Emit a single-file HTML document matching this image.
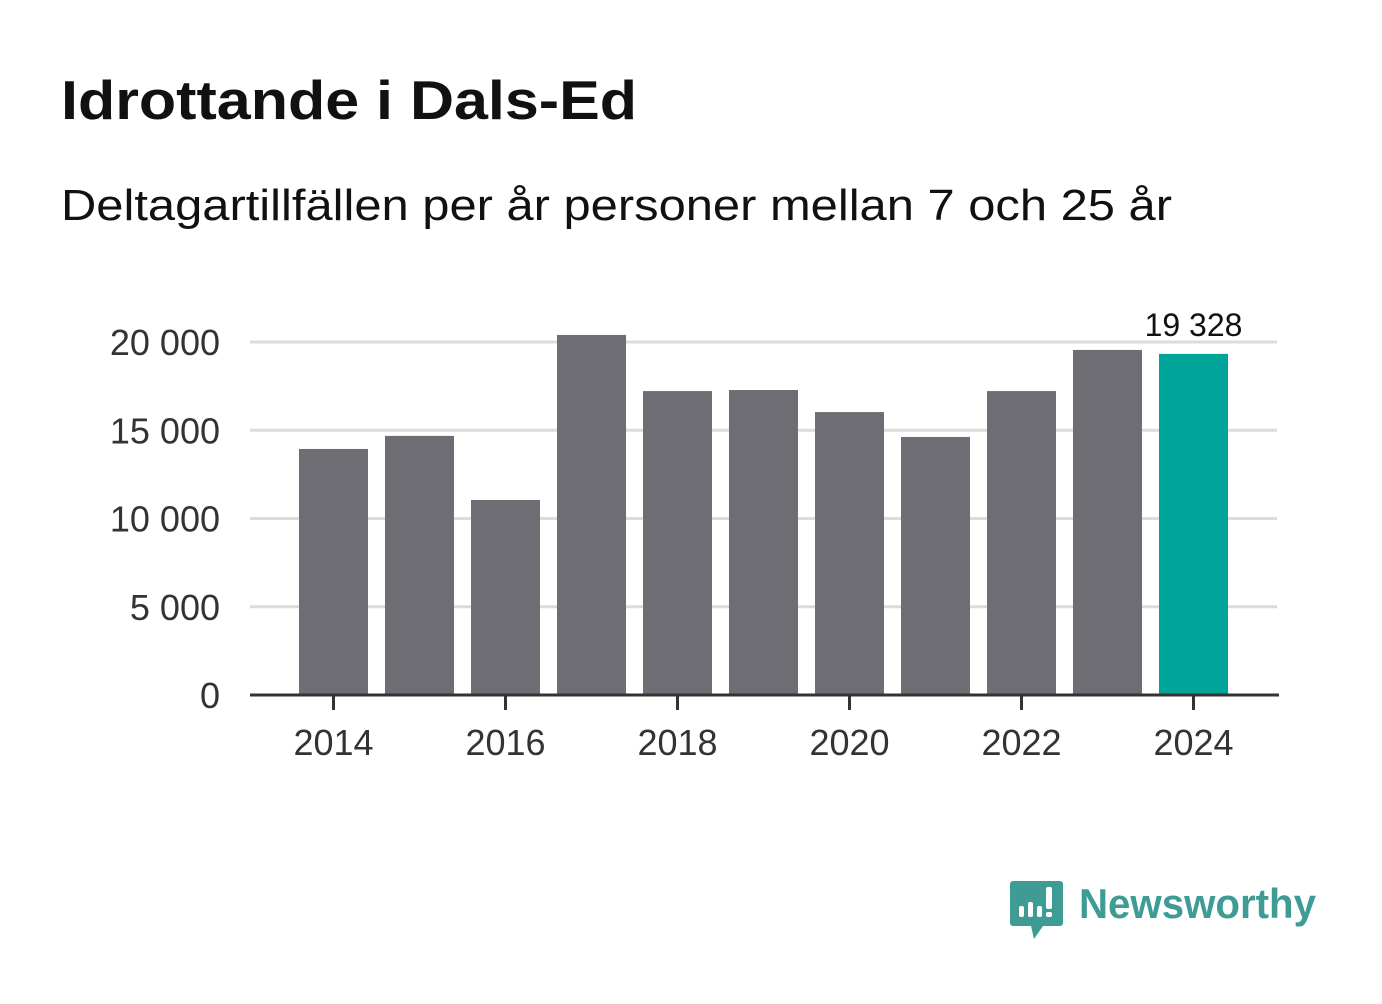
<!DOCTYPE html>
<html><head><meta charset="utf-8"><style>
body{margin:0;background:#fff;width:1382px;height:999px;overflow:hidden;font-family:"Liberation Sans","DejaVu Sans",sans-serif}
</style></head><body>
<svg width="1382" height="999" xmlns="http://www.w3.org/2000/svg">
<text x="61" y="119" font-size="55" font-weight="bold" fill="#111" textLength="576" lengthAdjust="spacingAndGlyphs">Idrottande i Dals-Ed</text>
<text x="61" y="220" font-size="44" fill="#111" textLength="1111" lengthAdjust="spacingAndGlyphs">Deltagartillfällen per år personer mellan 7 och 25 år</text>
<g id="grid"></g><g id="bars"></g><g id="axes"></g>
<g>
<path d="M1013 881 h47 a3 3 0 0 1 3 3 v39 a3 3 0 0 1 -3 3 h-17 l-9 13 l-3 -13 h-18 a3 3 0 0 1 -3 -3 v-39 a3 3 0 0 1 3 -3z" fill="#3f9c95"/>
<rect x="1019" y="906" width="5" height="11" rx="2" fill="#fff"/>
<rect x="1028" y="902" width="5" height="15" rx="2" fill="#fff"/>
<rect x="1037" y="906" width="5" height="11" rx="2" fill="#fff"/>
<rect x="1046" y="887" width="6" height="22" rx="2" fill="#fff"/>
<rect x="1046" y="912" width="6" height="5" rx="2" fill="#fff"/>
<text x="1079" y="918" font-size="42" font-weight="bold" fill="#3f9c95" textLength="237" lengthAdjust="spacingAndGlyphs">Newsworthy</text>
</g>
</svg>
<script>
const years=[2014,2015,2016,2017,2018,2019,2020,2021,2022,2023,2024];
const values=[13940,14680,11050,20400,17220,17280,16030,14620,17220,19550,19328];
const yTicks=[0,5000,10000,15000,20000];
const yTickLabels=["0","5 000","10 000","15 000","20 000"];
const xTickYears=[2014,2016,2018,2020,2022,2024];
const NS="http://www.w3.org/2000/svg";
const y0=695,pxPer=(695-342)/20000;
const y=v=>y0-v*pxPer;
const x=yr=>333.5+(yr-2014)*86;
const bw=69;
function mk(tag,attrs,parent,text){const e=document.createElementNS(NS,tag);for(const k in attrs)e.setAttribute(k,attrs[k]);if(text!==undefined)e.textContent=text;document.getElementById(parent).appendChild(e);return e;}
yTicks.forEach((t,i)=>{
 if(t>0){const g=mk('line',{x1:250,x2:1277,y1:y(t),y2:y(t),stroke:'#dcdcdc','stroke-width':3},'grid');
 
 }
 const l=mk('text',{x:220,y:y(t)+13,'font-size':36,'text-anchor':'end',fill:'#333'},'axes',yTickLabels[i]);
 
 
});
years.forEach((yr,i)=>{
 const last=i===years.length-1;
 const r=mk('rect',{x:x(yr)-bw/2,y:y(values[i]),width:bw,height:y0-y(values[i]),fill:last?'#00a499':'#6e6d73'},'bars');
 
 
 if(last){const t=mk('text',{x:x(yr),y:y(values[i])-18,'font-size':32,'text-anchor':'middle',fill:'#111'},'bars',values[i].toLocaleString('sv-SE').replace(/\s/g,' '));
 
 }
});
const ax=mk('line',{x1:250,x2:1279,y1:y0,y2:y0,stroke:'#333','stroke-width':3},'axes');


xTickYears.forEach(yr=>{
 const tk=mk('line',{x1:x(yr),x2:x(yr),y1:y0,y2:y0+15,stroke:'#333','stroke-width':3},'axes');
 
 
 const l=mk('text',{x:x(yr),y:755,'font-size':36,'text-anchor':'middle',fill:'#333'},'axes',String(yr));
 
 
});
</script>
</body></html>
